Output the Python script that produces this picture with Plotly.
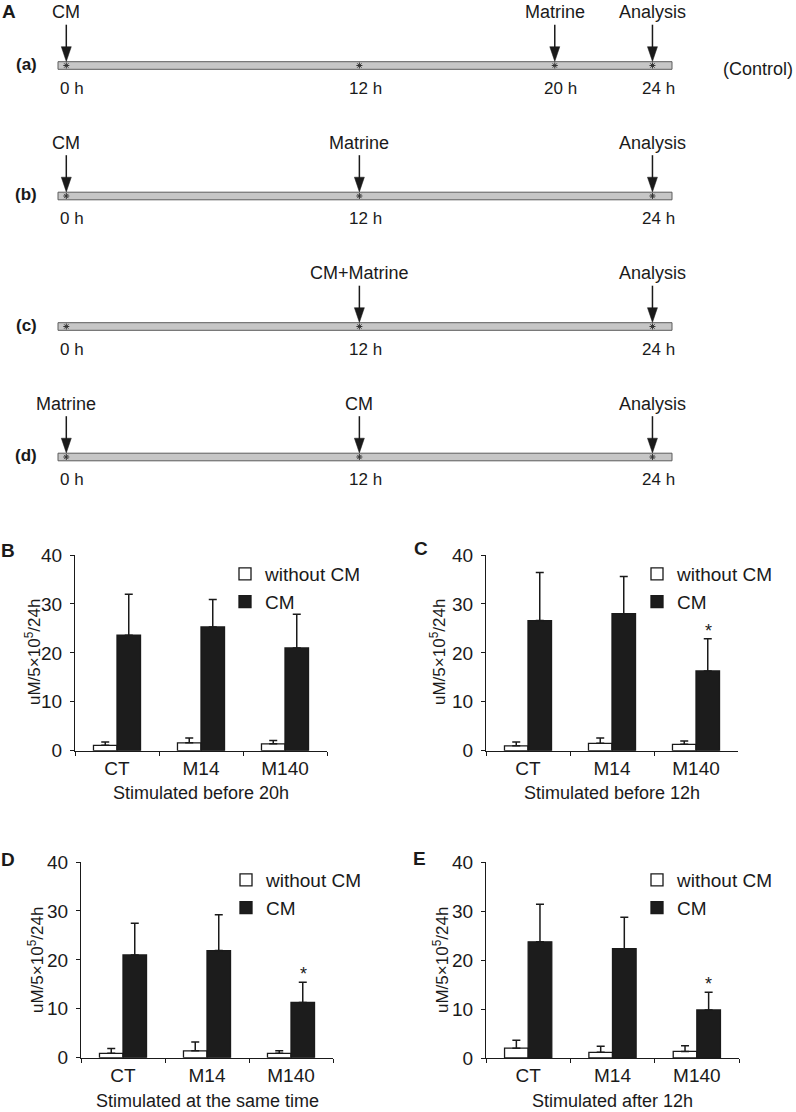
import plotly.graph_objects as go

W, H = 796, 1112
FONT = "Liberation Sans, Arial, Helvetica, sans-serif"
INK = "#1a1a1a"

# ---------------- Panel A data (timelines) ----------------
row_labels = ["(a)", "(b)", "(c)", "(d)"]
time_hours = [[0, 12, 20, 24], [0, 12, 24], [0, 12, 24], [0, 12, 24]]
event_hours = [[0, 20, 24], [0, 12, 24], [12, 24], [0, 12, 24]]
event_labels = [["CM", "Matrine", "Analysis"],
                ["CM", "Matrine", "Analysis"],
                ["CM+Matrine", "Analysis"],
                ["Matrine", "CM", "Analysis"]]
control_note = "(Control)"

# ---------------- Bar panel data ----------------
categories = ["CT", "M14", "M140"]
series_names = ["without CM", "CM"]

B_without = [1.1, 1.6, 1.4]
B_without_err = [0.7, 1.0, 0.7]
B_cm = [23.6, 25.3, 21.0]
B_cm_err = [8.4, 5.6, 6.9]

C_without = [1.0, 1.5, 1.3]
C_without_err = [0.8, 1.1, 0.7]
C_cm = [26.6, 28.0, 16.3]
C_cm_err = [9.8, 7.6, 6.6]

D_without = [0.9, 1.4, 0.9]
D_without_err = [1.0, 1.8, 0.5]
D_cm = [21.0, 21.9, 11.3]
D_cm_err = [6.5, 7.3, 4.1]

E_without = [2.0, 1.15, 1.35]
E_without_err = [1.6, 1.25, 1.15]
E_cm = [23.7, 22.3, 9.8]
E_cm_err = [7.7, 6.4, 3.6]

y_ticks = [0, 10, 20, 30, 40]
y_title = "uM/5×10<sup>5</sup>/24h"
x_titles = ["Stimulated before 20h", "Stimulated before 12h",
            "Stimulated at the same time", "Stimulated after 12h"]
significant = [[False, False, False], [False, False, True],
               [False, False, True], [False, False, True]]


def fx(p):
    return p / W


def fy(p):
    return 1 - p / H


def txt(size, color=INK):
    return dict(size=size, color=color, family=FONT)


fig = go.Figure()
shapes = []
annotations = []


def note(x, y, text, size, xref="paper", yref="paper", **kw):
    d = dict(x=x, y=y, xref=xref, yref=yref, text=text, showarrow=False,
             xanchor="center", yanchor="middle", font=txt(size))
    d.update(kw)
    annotations.append(d)


# ---------------- Panel A ----------------
ROW_PX = 130.5
A_X0, A_X1 = 58, 672
A_RANGE = [-0.34, 24.80]
H_PER_PX = (A_RANGE[1] - A_RANGE[0]) / (A_X1 - A_X0)


def rpx(p):
    return p / ROW_PX


BAR_HALF = 3.8
for i, lab in enumerate(row_labels):
    shapes.append(dict(type="rect", xref="x domain", yref="y", x0=0, x1=1,
                       y0=i - rpx(BAR_HALF), y1=i + rpx(BAR_HALF),
                       fillcolor="#c6c6c6", line=dict(color="#5c5c5c", width=1),
                       layer="below"))
    fig.add_trace(go.Scatter(x=time_hours[i], y=[i] * len(time_hours[i]),
                             mode="markers", xaxis="x", yaxis="y",
                             marker=dict(symbol="asterisk-open", size=5, color="#333",
                                         line=dict(color="#333", width=1)),
                             showlegend=False, hoverinfo="skip"))
    for h in time_hours[i]:
        note(h, i, f"{h} h", 17, xref="x", yref="y", yshift=-22.5, xshift=6)
    for h, t in zip(event_hours[i], event_labels[i]):
        tip = i - rpx(BAR_HALF + 0.3)
        base = i - rpx(BAR_HALF + 15)
        top = i - rpx(BAR_HALF + 37)
        shapes.append(dict(type="line", xref="x", yref="y", x0=h, x1=h, y0=top, y1=base + rpx(1),
                           line=dict(color=INK, width=1.5)))
        dx = 5 * H_PER_PX
        shapes.append(dict(type="path", xref="x", yref="y",
                           path=f"M{h - dx},{base} L{h + dx},{base} L{h},{tip} Z",
                           fillcolor=INK, line=dict(color=INK, width=0.5)))
        note(h, i, t, 18, xref="x", yref="y", yshift=53.5)
    note(fx(26), i, f"<b>{lab}</b>", 17, yref="y", yshift=1.5)

note(fx(795), 0, control_note, 18, yref="y", yshift=-3.5, xanchor="right")
note(fx(9), fy(11), "<b>A</b>", 19)

layout_axes = dict(
    xaxis=dict(domain=[fx(A_X0), fx(A_X1)], range=A_RANGE, visible=False, anchor="y"),
    yaxis=dict(domain=[fy(522), fy(0)], range=[522 / ROW_PX - 65.5 / ROW_PX, -65.5 / ROW_PX],
               visible=False, anchor="x"),
)

# ---------------- Bar panels ----------------
panels = [
    dict(letter="B", xdom=(75, 327), ydom=(750.7, 555), wv=B_without, we=B_without_err,
         cv=B_cm, ce=B_cm_err, letter_pos=(8, 550), leg=(245, 576), ytitle=(33, 652),
         xtitle_y=793),
    dict(letter="C", xdom=(486, 738), ydom=(750.7, 555), wv=C_without, we=C_without_err,
         cv=C_cm, ce=C_cm_err, letter_pos=(421, 549), leg=(657, 576), ytitle=(438, 652),
         xtitle_y=793),
    dict(letter="D", xdom=(81, 333), ydom=(1057.7, 862), wv=D_without, we=D_without_err,
         cv=D_cm, ce=D_cm_err, letter_pos=(8, 859), leg=(246, 882), ytitle=(36, 960),
         xtitle_y=1101),
    dict(letter="E", xdom=(486, 739), ydom=(1058, 862), wv=E_without, we=E_without_err,
         cv=E_cm, ce=E_cm_err, letter_pos=(420, 858), leg=(657, 882), ytitle=(441, 960),
         xtitle_y=1101),
]

for k, p in enumerate(panels):
    n = k + 2
    xa, ya = f"x{n}", f"y{n}"
    legname = "legend" if k == 0 else f"legend{k + 1}"
    fig.add_trace(go.Bar(x=categories, y=p["wv"], name=series_names[0], xaxis=xa, yaxis=ya,
                         marker=dict(color="white", line=dict(color=INK, width=1.3)),
                         error_y=dict(type="data", array=p["we"], arrayminus=[0] * 3,
                                      symmetric=False, color=INK, thickness=1.5, width=4),
                         legend=legname, offsetgroup="w"))
    fig.add_trace(go.Bar(x=categories, y=p["cv"], name=series_names[1], xaxis=xa, yaxis=ya,
                         marker=dict(color="#1c1c1c", line=dict(color=INK, width=1.3)),
                         error_y=dict(type="data", array=p["ce"], arrayminus=[0] * 3,
                                      symmetric=False, color=INK, thickness=1.5, width=4),
                         legend=legname, offsetgroup="c"))
    layout_axes[f"xaxis{n}"] = dict(
        domain=[fx(p["xdom"][0]), fx(p["xdom"][1])], anchor=ya, type="category",
        showline=True, linecolor=INK, linewidth=1.3, ticks="outside", tickson="boundaries",
        ticklen=4, tickcolor=INK, tickwidth=1.2, showgrid=False,
        tickfont=txt(19))
    layout_axes[f"yaxis{n}"] = dict(
        domain=[fy(p["ydom"][0]), fy(p["ydom"][1])], anchor=xa, range=[0, 40],
        tickvals=y_ticks, showline=True, linecolor=INK, linewidth=1.3, ticks="outside",
        ticklen=4, tickcolor=INK, tickwidth=1.2, showgrid=False, zeroline=False,
        ticklabelstandoff=4, tickfont=txt(19))
    layout_axes[legname] = dict(
        x=fx(p["leg"][0] - 20), y=fy(p["leg"][1] - 21), xanchor="left", yanchor="top",
        bgcolor="rgba(0,0,0,0)", font=txt(19), tracegroupgap=0, borderwidth=0)
    note(fx(p["letter_pos"][0]), fy(p["letter_pos"][1]), f"<b>{p['letter']}</b>", 19)
    note(fx(p["ytitle"][0]), fy(p["ytitle"][1]), y_title, 17, textangle=-90)
    note(fx((p["xdom"][0] + p["xdom"][1]) / 2), fy(p["xtitle_y"]), x_titles[k], 18)
    for j, c in enumerate(categories):
        if significant[k][j]:
            note(c, p["cv"][j] + p["ce"][j], "*", 18, xref=xa, yref=ya,
                 xshift=12, yshift=-4, yanchor="bottom")

fig.update_layout(
    width=W, height=H, margin=dict(l=0, r=0, t=0, b=0, autoexpand=False),
    paper_bgcolor="white", plot_bgcolor="rgba(0,0,0,0)",
    barmode="group", bargap=0.44, bargroupgap=0,
    shapes=shapes, annotations=annotations,
    font=dict(family=FONT, color=INK),
    **layout_axes,
)

fig.write_html("out.html", config={"displayModeBar": False},
               post_script="document.body.style.margin='0';document.body.style.overflow='hidden';")
